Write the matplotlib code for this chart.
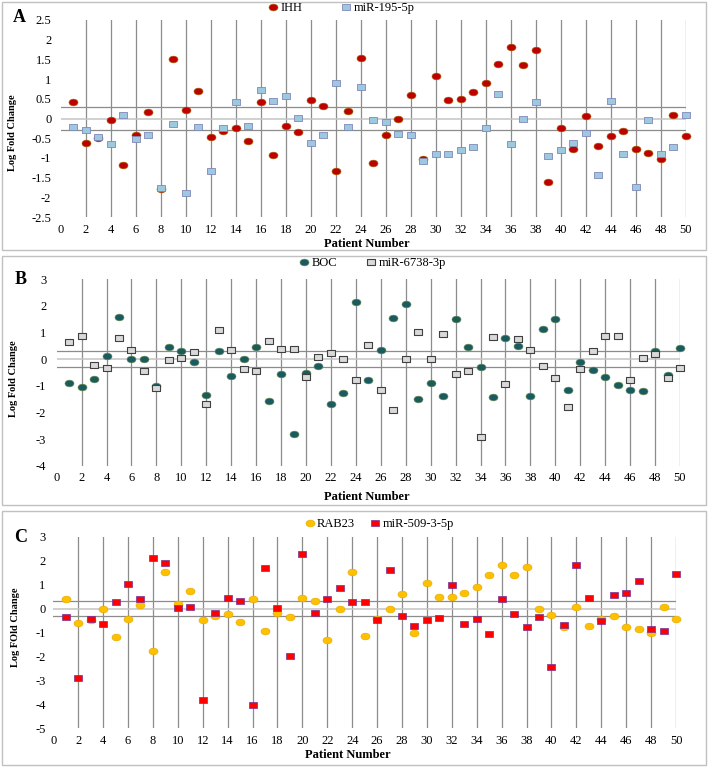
import matplotlib
matplotlib.use('Agg')
import matplotlib.pyplot as plt
import numpy as np
from matplotlib.path import Path
from matplotlib.patches import Rectangle

plt.rcParams['font.family'] = ['Liberation Serif', 'DejaVu Serif']
plt.rcParams['axes.unicode_minus'] = False

patients = list(range(1, 51))

# panel A
ihh = [0.41, -0.62, -0.49, -0.03, -1.18, -0.43, 0.17, -1.79, 1.51, 0.22,
       0.71, -0.47, -0.32, -0.24, -0.57, 0.41, -0.92, -0.18, -0.35, 0.46,
       0.31, -1.32, 0.18, 1.53, -1.14, -0.43, -0.01, 0.59, -1.02, 1.08,
       0.47, 0.50, 0.68, 0.90, 1.38, 1.82, 1.37, 1.74, -1.61, -0.24,
       -0.78, 0.07, -0.70, -0.44, -0.32, -0.77, -0.87, -1.02, 0.09, -0.45]
mir_195_5p = [-0.21, -0.28, -0.47, -0.65, 0.09, -0.53, -0.41, -1.77, -0.14, -1.90,
              -0.22, -1.34, -0.24, 0.41, -0.19, 0.73, 0.45, 0.58, 0.02, -0.62,
              -0.41, 0.90, -0.21, 0.81, -0.03, -0.08, -0.39, -0.41, -1.07, -0.89,
              -0.89, -0.79, -0.73, -0.24, 0.63, -0.64, 0.00, 0.41, -0.95, -0.81,
              -0.62, -0.38, -1.44, 0.44, -0.90, -1.75, -0.03, -0.89, -0.73, 0.08]

# panel B
boc = [-0.91, -1.06, -0.76, 0.10, 1.58, -0.01, -0.01, -1.03, 0.46, 0.30,
       -0.11, -1.36, 0.30, -0.63, -0.01, 0.46, -1.56, -0.55, -2.80, -0.53,
       -0.26, -1.70, -1.26, 2.14, -0.79, 0.33, 1.55, 2.06, -1.51, -0.89,
       -1.39, 1.51, 0.46, -0.30, -1.44, 0.79, 0.49, -1.40, 1.13, 1.49,
       -1.15, -0.13, -0.43, -0.69, -0.98, -1.15, -1.21, 0.30, -0.59, 0.43]
mir_6738_3p = [0.63, 0.86, -0.24, -0.33, 0.79, 0.34, -0.44, -1.08, -0.03, 0.03,
               0.28, -1.69, 1.10, 0.35, -0.38, -0.45, 0.69, 0.36, 0.39, -0.68,
               0.08, 0.24, 0.01, -0.79, 0.53, -1.18, -1.90, -0.01, 1.03, -0.01,
               0.95, -0.56, -0.44, -2.91, 0.83, -0.93, 0.76, 0.33, -0.25, -0.71,
               -1.79, -0.36, 0.31, 0.88, 0.88, -0.79, 0.03, 0.18, -0.73, -0.34]

# panel C
rab23 = [0.40, -0.61, -0.49, -0.03, -1.18, -0.45, 0.15, -1.79, 1.52, 0.21,
         0.72, -0.49, -0.32, -0.24, -0.57, 0.40, -0.93, -0.17, -0.35, 0.45,
         0.32, -1.32, -0.03, 1.52, -1.14, -0.43, -0.03, 0.60, -1.04, 1.08,
         0.47, 0.50, 0.67, 0.90, 1.38, 1.82, 1.38, 1.75, -0.03, -0.26,
         -0.79, 0.06, -0.71, -0.45, -0.32, -0.79, -0.87, -1.04, 0.08, -0.45]
mir_509_3_5p = [-0.36, -2.89, -0.45, -0.64, 0.29, 1.04, 0.39, 2.13, 1.92, 0.03,
                0.08, -3.81, -0.18, 0.45, 0.32, -4.03, 1.71, 0.01, -1.98, 2.27,
                -0.18, 0.38, 0.86, 0.29, 0.28, -0.46, 1.59, -0.33, -0.71, -0.46,
                -0.38, 1.00, -0.65, -0.42, -1.07, 0.38, -0.22, -0.78, -0.36, -2.45,
                -0.70, 1.81, 0.46, -0.51, 0.56, 0.63, 1.13, -0.86, -0.95, 1.45]

t = np.linspace(0, 2 * np.pi, 41)
ellipse = Path(np.column_stack([1.33 * np.cos(t), np.sin(t)]))
rect = Path([(-1.15, -1), (1.15, -1), (1.15, 1), (-1.15, 1), (-1.15, -1)], closed=True)

W, H = 708, 767
fig = plt.figure(figsize=(W / 100, H / 100), dpi=100)

def fx(px):
    return px / W

def fy(py):
    return 1 - py / H

# panel frames
for top, bot in [(2, 250), (256, 505), (511, 765)]:
    fig.patches.append(Rectangle((fx(2), fy(bot)), fx(704), (bot - top) / H,
                                 transform=fig.transFigure, fill=False,
                                 edgecolor='#c0c0c0', linewidth=1.0))

panels = [
    dict(letter='A', box=(61, 685.7, 20, 217), ylim=(-2.5, 2.5), ystep=0.5,
         s1=('IHH', ihh, '#C00000', '#9a6a00', 0.4),
         s2=('miR-195-5p', mir_195_5p, '#9CC9DF', '#8088b8', 0.6),
         ylabel='Log Fold Change', ylab_pos=(13, 133), xlab_pos=(367, 244),
         let_pos=(19, 18), leg_pos=(342, 8), colsp=3.2, ypad=7, xpad=5),
    dict(letter='B', box=(56.7, 680, 279, 465.7), ylim=(-4, 3), ystep=1,
         s1=('BOC', boc, '#1A5B60', '#6f8f4f', 0.4),
         s2=('miR-6738-3p', mir_6738_3p, '#D9D9D9', '#404040', 0.8),
         ylabel='Log Fold Change', ylab_pos=(14, 379), xlab_pos=(367, 497),
         let_pos=(21, 279), leg_pos=(373, 263), colsp=2.4, ypad=7.5, xpad=4.5),
    dict(letter='C', box=(53.3, 676, 536.7, 728.3), ylim=(-5, 3), ystep=1,
         s1=('RAB23', rab23, '#FFC000', '#e0a800', 0.4),
         s2=('miR-509-3-5p', mir_509_3_5p, '#FF0000', '#7030A0', 0.5),
         ylabel='Log FOld Change', ylab_pos=(16, 627), xlab_pos=(348, 755),
         let_pos=(21, 538), leg_pos=(380, 524), colsp=1.3, ypad=5.5, xpad=4.5),
]

for p in panels:
    l, r, tp, bt = p['box']
    ax = fig.add_axes([fx(l), fy(bt), fx(r - l), (bt - tp) / H])
    for s in ax.spines.values():
        s.set_visible(False)
    ax.set_xlim(0, 50)
    ax.set_ylim(*p['ylim'])
    ax.set_xticks(range(0, 51, 2))
    yt = np.arange(p['ylim'][0], p['ylim'][1] + 1e-9, p['ystep'])
    ax.set_yticks(yt)
    ax.set_yticklabels([f'{v:g}' for v in yt])
    ax.tick_params(length=0, labelsize=9)
    ax.tick_params(axis='y', pad=p['ypad'])
    ax.tick_params(axis='x', pad=p['xpad'])
    ax.grid(axis='x', color='#8c8c8c', linewidth=0.9)
    ax.get_xgridlines()[0].set_visible(False)
    ax.set_axisbelow(True)
    ax.axhline(0, color='#c4c4c4', linewidth=1.1, zorder=1)
    ax.axhline(0.3, color='#8c8c8c', linewidth=0.9, zorder=1)
    ax.axhline(-0.3, color='#8c8c8c', linewidth=0.9, zorder=1)

    n1, v1, fc1, ec1, lw1 = p['s1']
    n2, v2, fc2, ec2, lw2 = p['s2']
    ax.plot(patients, v1, linestyle='none', marker=ellipse, markersize=6.5,
            markerfacecolor=fc1, markeredgecolor=ec1, markeredgewidth=lw1,
            label=n1, clip_on=False, zorder=3)
    ax.plot(patients, v2, linestyle='none', marker=rect, markersize=5.6,
            markerfacecolor=fc2, markeredgecolor=ec2, markeredgewidth=lw2,
            label=n2, clip_on=False, zorder=4)

    fig.legend(*ax.get_legend_handles_labels(), loc='center', ncol=2,
               bbox_to_anchor=(fx(p['leg_pos'][0]), fy(p['leg_pos'][1])),
               bbox_transform=fig.transFigure, frameon=False, fontsize=9,
               handlelength=0.6, handletextpad=0.3, columnspacing=p['colsp'],
               borderpad=0, borderaxespad=0)

    fig.text(fx(p['ylab_pos'][0]), fy(p['ylab_pos'][1]), p['ylabel'],
             rotation=90, ha='center', va='center', fontsize=7.5, fontweight='bold')
    fig.text(fx(p['xlab_pos'][0]), fy(p['xlab_pos'][1]), 'Patient Number',
             ha='center', va='center', fontsize=9, fontweight='bold')
    fig.text(fx(p['let_pos'][0]), fy(p['let_pos'][1]), p['letter'],
             ha='center', va='center', fontsize=13, fontweight='bold')

fig.savefig('out.png', dpi=100, facecolor='white')
